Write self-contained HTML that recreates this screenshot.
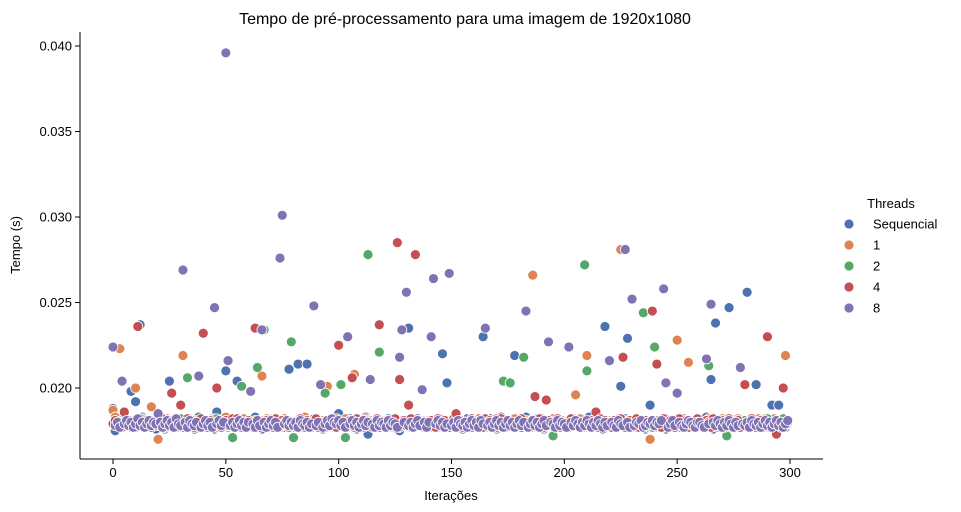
<!DOCTYPE html>
<html><head><meta charset="utf-8"><style>
html,body{margin:0;padding:0;background:#fff;}
svg{display:block;font-family:"Liberation Sans","DejaVu Sans",sans-serif;}
</style></head><body>
<svg id="chart" width="961" height="512" viewBox="0 0 961 512">
<text x="465" y="24" text-anchor="middle" font-size="16" fill="#000">Tempo de pré-processamento para uma imagem de 1920x1080</text>
<g id="axes"></g>
<g id="points"></g>
<g id="legend"></g>
</svg>
<script>
const categories = ["Sequencial","1","2","4","8"];
const colors = ["#4c72b0","#dd8452","#55a868","#c44e52","#8172b3"];
const xTicks = [0,50,100,150,200,250,300];
const yTicks = [0.020,0.025,0.030,0.035,0.040];
const yTickLabels = ["0.020","0.025","0.030","0.035","0.040"];
// values in units of 1e-4 s, index = iteration
const seqValues = [188,175,178,180,177,179,182,178,198,177,192,180,237,183,177,180,179,178,181,176,
179,180,178,176,181,204,179,177,180,178,182,177,179,181,178,180,176,179,183,178,
177,180,179,178,182,176,186,179,181,178,210,177,180,182,178,204,179,177,181,178,
180,178,177,183,179,181,176,178,180,179,177,182,178,180,179,181,177,178,211,180,
178,177,214,179,181,178,214,180,177,182,179,178,180,176,179,181,178,180,177,179,
185,178,180,177,179,182,178,181,176,179,180,178,183,173,180,179,178,181,177,180,
179,178,182,177,180,181,176,175,180,178,179,235,177,180,178,182,179,181,177,178,
180,178,177,181,179,182,220,178,203,180,177,179,181,178,180,176,179,182,178,177,
179,181,178,180,230,177,179,182,178,180,176,179,183,177,180,178,181,179,219,178,
180,177,179,183,178,181,177,180,179,178,182,176,179,180,178,181,177,179,180,178,
178,180,177,179,182,178,181,177,180,179,178,183,177,180,179,178,181,176,236,180,
179,181,178,177,180,201,179,182,229,178,180,177,179,181,178,180,176,179,190,178,
177,180,179,178,182,176,180,179,181,178,180,177,180,182,178,181,179,177,181,178,
180,178,177,183,179,205,176,238,180,179,177,182,178,247,179,181,177,178,180,180,
178,256,180,179,181,202,178,180,177,182,179,178,190,176,179,190,178,180,177,179];
const t1Values = [187,183,179,223,180,186,178,181,177,180,200,179,178,182,177,180,179,189,178,181,
170,178,180,177,182,179,178,181,180,177,179,219,178,180,182,177,179,181,178,180,
179,177,181,178,180,182,177,179,180,178,183,177,180,179,181,178,177,180,182,179,
178,180,177,181,179,178,207,180,182,177,179,181,178,180,177,179,182,178,181,180,
177,179,181,178,180,183,177,179,180,178,182,179,177,181,178,201,180,179,177,182,
180,178,179,182,177,180,181,208,178,179,180,177,182,178,181,179,177,180,178,181,
178,181,177,180,179,182,178,177,181,180,179,178,182,177,180,179,181,178,180,177,
181,179,178,180,177,182,179,181,178,180,177,179,182,178,181,177,180,179,178,181,
179,178,182,177,180,179,181,178,180,177,182,179,178,181,177,180,179,178,182,180,
178,180,179,181,178,177,266,180,182,178,179,177,181,180,178,182,179,177,180,181,
180,177,181,178,179,196,180,182,178,177,219,180,179,181,178,177,182,180,178,179,
181,178,180,177,182,281,179,178,181,180,177,179,182,178,180,181,179,177,170,180,
179,181,178,180,177,182,179,178,181,180,228,177,179,182,178,215,180,179,181,178,
178,180,179,177,182,178,181,180,177,179,182,178,180,181,177,179,178,182,180,179,
180,179,181,178,180,177,182,179,178,181,180,177,179,182,178,180,181,177,219,179];
const t2Values = [179,181,178,180,177,182,179,178,181,180,177,179,182,178,180,181,179,177,180,178,
180,178,182,177,179,181,178,180,177,179,182,178,180,206,179,181,177,180,178,182,
178,180,177,181,179,178,182,180,177,179,181,178,180,171,178,182,179,201,180,177,
181,179,178,180,212,177,179,234,181,178,180,177,182,179,178,181,180,179,177,227,
171,180,178,182,179,177,181,178,180,179,182,177,178,180,197,179,181,178,180,177,
179,202,180,171,178,181,179,177,182,180,178,179,181,278,180,177,179,182,221,178,
180,177,181,179,178,182,180,177,179,181,178,180,182,177,179,181,178,180,177,179,
178,181,179,177,182,180,178,181,179,177,180,182,178,179,181,177,180,179,178,182,
181,178,180,179,177,182,178,181,180,179,177,178,182,204,180,181,203,179,178,180,
179,182,218,178,180,177,181,179,178,182,180,177,179,181,178,172,180,182,177,179,
178,180,177,182,179,181,178,180,177,272,210,179,181,178,180,177,182,179,181,178,
180,177,181,179,178,182,180,177,179,181,178,180,182,177,179,244,181,178,180,177,
224,181,179,177,182,180,178,181,179,177,180,182,178,179,181,177,180,179,178,182,
179,178,180,181,213,177,182,179,178,180,181,177,172,182,179,178,180,181,177,179,
181,179,178,182,180,177,179,181,178,180,182,177,179,178,181,180,177,182,179,180];
const t4Values = [179,181,178,180,177,186,179,181,178,180,177,236,182,178,180,181,179,177,180,178,
180,178,182,177,179,181,197,180,177,179,190,178,180,182,179,181,177,180,178,182,
232,180,177,181,179,178,200,180,177,179,181,178,180,182,178,182,179,177,180,177,
181,179,178,235,180,177,179,181,181,178,180,177,182,179,178,181,180,179,177,180,
178,180,177,182,179,177,181,178,180,179,182,177,178,180,177,179,181,178,180,177,
225,178,180,177,178,181,206,177,182,180,178,179,181,180,180,177,179,182,237,178,
180,177,181,179,178,182,285,205,179,181,178,190,182,177,278,181,178,180,177,179,
178,181,179,177,182,180,178,181,179,177,180,182,185,179,181,177,180,179,178,182,
181,178,180,179,177,182,178,181,180,179,177,178,182,180,180,181,178,179,178,180,
179,182,178,178,180,177,181,195,178,182,180,177,193,181,178,180,180,182,177,179,
178,180,177,182,179,181,178,180,177,179,180,179,181,178,186,177,182,179,181,178,
180,177,181,179,178,182,218,177,179,181,178,180,182,177,179,180,181,178,180,245,
180,214,179,177,182,180,178,181,179,177,180,182,178,179,181,177,180,179,178,182,
179,178,180,181,180,177,182,179,178,180,181,177,180,182,179,178,180,181,177,179,
202,179,178,182,180,177,179,181,178,180,230,177,179,178,173,180,177,200,179,180];
const t8Values = [224,178,180,177,204,179,181,178,180,177,179,182,178,180,177,179,181,178,180,179,
185,180,177,179,181,178,180,177,182,179,178,269,180,177,181,179,178,180,207,177,
179,181,178,180,177,247,179,181,178,180,396,216,178,180,177,179,181,178,180,177,
180,198,179,177,181,178,234,180,177,179,181,178,180,177,276,301,179,181,178,180,
178,180,177,181,179,178,180,177,179,248,178,180,202,177,179,181,178,182,180,179,
181,178,180,177,230,179,181,178,180,177,179,181,178,180,205,179,177,181,178,180,
179,177,181,178,180,179,177,218,234,180,256,178,180,177,179,181,178,199,180,177,
180,230,264,179,181,178,180,177,179,267,178,180,177,181,179,178,180,177,179,181,
178,180,177,181,179,235,178,180,177,179,181,178,180,177,179,181,178,180,177,179,
181,178,180,245,177,179,181,178,180,177,179,181,178,227,180,179,177,181,178,180,
179,177,224,180,178,181,179,177,180,178,181,179,177,180,178,181,179,177,180,178,
216,180,178,177,181,179,178,281,180,177,252,178,180,179,181,177,178,180,179,181,
178,180,179,181,258,203,177,179,181,178,197,180,178,177,179,181,180,178,177,180,
180,178,177,217,179,249,180,178,181,179,177,180,178,181,179,177,180,178,212,179,
178,180,177,181,179,178,180,177,179,181,178,180,177,179,181,178,180,177,179,181];
const series = [seqValues,t1Values,t2Values,t4Values,t8Values];

const NS="http://www.w3.org/2000/svg";
function xs(i){return 113+(i/300)*(790-113);}
function ys(v){return 388-(v-0.020)*(388-46)/0.020;}
function mk(tag,attrs,parent){const e=document.createElementNS(NS,tag);for(const k in attrs)e.setAttribute(k,attrs[k]);parent.appendChild(e);return e;}
const axes=document.getElementById('axes');
const L=80,R=823,T=32,B=459;
let sp=mk('line',{x1:L,y1:T,x2:L,y2:B,stroke:'#000','stroke-width':1},axes);


sp=mk('line',{x1:L,y1:B,x2:R,y2:B,stroke:'#000','stroke-width':1},axes);


xTicks.forEach(t=>{const x=xs(t);
 mk('line',{x1:x,y1:B,x2:x,y2:B+5,stroke:'#000'},axes);
 const tx=mk('text',{x:x,y:B+18,'text-anchor':'middle','font-size':13},axes);tx.textContent=t;
 
 
});
yTicks.forEach((t,i)=>{const y=ys(t);
 mk('line',{x1:L-5,y1:y,x2:L,y2:y,stroke:'#000'},axes);
 const tx=mk('text',{x:L-8,y:y+4.5,'text-anchor':'end','font-size':13},axes);tx.textContent=yTickLabels[i];
 
 
});
let lab=mk('text',{x:451,y:500,'text-anchor':'middle','font-size':13},axes);lab.textContent='Iterações';


lab=mk('text',{x:20,y:245,'text-anchor':'middle','font-size':13,transform:'rotate(-90 20 245)'},axes);lab.textContent='Tempo (s)';



const pts=document.getElementById('points');
series.forEach((arr,s)=>{arr.forEach((v,i)=>{
 const c=mk('circle',{cx:xs(i),cy:ys(v/10000),r:5,fill:colors[s],stroke:'#fff','stroke-width':0.8},pts);
 
 
});});

const lg=document.getElementById('legend');
let lt=mk('text',{x:891,y:208,'text-anchor':'middle','font-size':13},lg);lt.textContent='Threads';


categories.forEach((c,i)=>{const y=224+i*21;
 const g=mk('g',{},lg);
 
 
 mk('circle',{cx:849,cy:y,r:5,fill:colors[i],stroke:'#fff','stroke-width':0.8},g);
 const t=mk('text',{x:873,y:y+4.5,'font-size':13},g);t.textContent=c;
});
</script>
</body></html>
